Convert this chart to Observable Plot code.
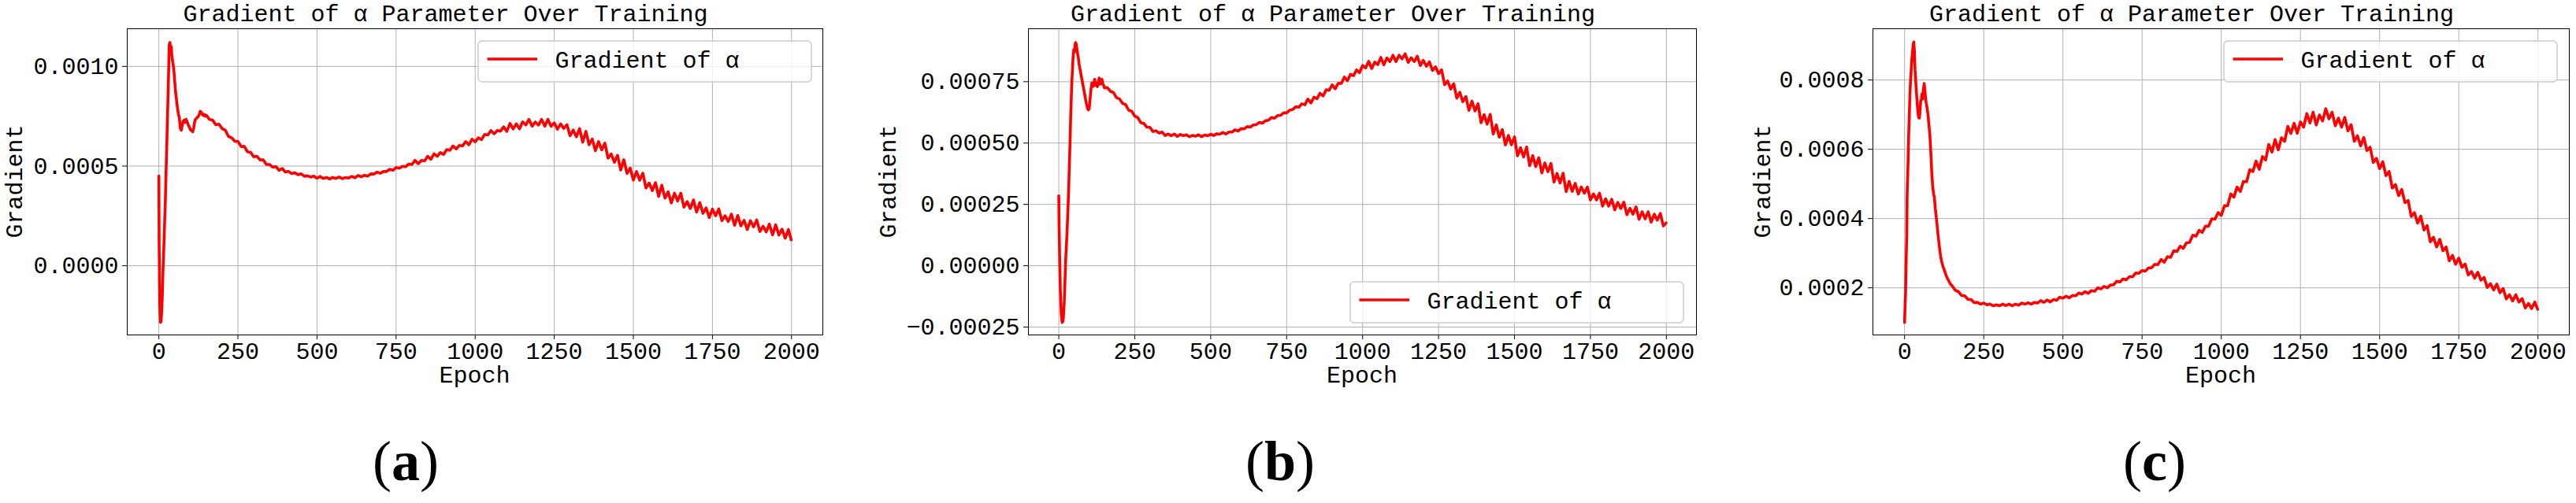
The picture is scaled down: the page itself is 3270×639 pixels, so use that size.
<!DOCTYPE html>
<html>
<head>
<meta charset="utf-8">
<script src="https://cdn.jsdelivr.net/npm/d3@7"></script>
<script src="https://cdn.jsdelivr.net/npm/@observablehq/plot@0.6"></script>
<style>
  html, body { margin: 0; padding: 0; background: #ffffff; }
  #figure { position: relative; width: 3270px; height: 639px; overflow: hidden; background: #ffffff; }
  .panel { position: absolute; top: 0; width: 1090px; height: 639px; }
  .panel svg { display: block; }
</style>
</head>
<body>
<div id="figure"></div>
<script>
const FONT = "'Liberation Mono', 'DejaVu Sans Mono', monospace";
const SERIF = "'Liberation Serif', 'DejaVu Serif', serif";

// ---------- shared axis values ----------
const xTicks = [0, 250, 500, 750, 1000, 1250, 1500, 1750, 2000];
const xTickLabels = ["0", "250", "500", "750", "1000", "1250", "1500", "1750", "2000"];
const xDomain = [-99.95, 2098.95];
const titleText = "Gradient of α Parameter Over Training";
const xLabelText = "Epoch";
const yLabelText = "Gradient";
const legendText = "Gradient of α";

// epochs sampled every 10 from 150 to 1990, plus the last epoch
const tailEpochs = d3.range(150, 2000, 10).concat([1999]);

// ---------- panel (a) : gradient values in units of 1e-6 ----------
const earlyEpochsA = [0,1,3,5,7,9,11,13,15,17,19,21,23,25,27,29,31,33,35,37,39,41,44,47,50,53,56,59,62,65,68,71,74,77,80,83,86,89,92,95,98,101,104,107,110,113,116,119,122,125,128,131,134,137,140,143,146];
const earlyGradA = [450,100,-200,-284,-280,-230,-150,-30,60,150,250,350,480,600,720,850,980,1110,1120,1090,1100,1060,1020,990,930,870,830,790,760,740,690,680,705,725,730,720,735,725,710,700,690,680,680,672,690,720,735,740,745,750,760,775,770,760,755,760,750];
const tailGradA = [
  755,734,731,707,710,688,680,649,642,625,
  624,598,599,572,569,547,549,531,531,508,
  508,494,498,479,488,470,473,462,466,457,
  461,449,451,445,450,439,448,438,443,435,
  443,438,445,437,443,440,448,441,453,446,
  454,450,461,460,470,464,473,473,484,479,
  493,489,499,497,510,508,529,512,529,526,
  549,534,562,549,568,558,583,579,601,586,
  604,601,623,607,635,622,642,633,659,656,
  678,662,679,675,697,674,714,686,712,687,
  722,706,734,700,721,706,734,700,734,699,
  717,685,712,689,708,652,681,647,688,620,
  674,607,636,577,623,581,615,540,561,519,
  554,480,532,463,490,430,473,429,464,390,
  415,377,417,348,404,339,371,315,364,325,
  364,294,322,287,330,269,317,263,290,242,
  284,251,285,226,251,222,259,203,252,200,
  228,182,226,195,230,172,198,170,209,155,
  205,154,184,138,182,130];
const yTicksA = [0, 500, 1000];
const yTickLabelsA = ["0.0000", "0.0005", "0.0010"];

// ---------- panel (b) ----------
const earlyEpochsB = [0,1,3,5,8,11,13,15,18,20,23,27,31,33,35,37,39,41,43,45,47,49,51,53,55,57,59,61,64,67,70,73,76,79,82,85,88,91,94,97,100,103,106,109,112,115,118,121,124,127,130,133,136,139,142,145,148];
const earlyGradB = [285,160,25,-95,-195,-231,-228,-212,-147,-73,34,130,258,330,420,500,600,680,750,800,850,880,870,895,910,905,890,870,850,820,800,780,760,740,720,700,680,660,645,635,640,680,720,745,730,740,760,735,745,730,750,765,740,745,760,740,735];
const tailGradB = [
  725,726,711,706,685,680,662,657,634,630,
  610,604,583,580,565,564,547,550,541,545,
  531,537,530,537,527,535,530,534,526,531,
  528,534,526,533,530,536,531,538,536,543,
  537,545,545,554,549,559,558,567,565,574,
  575,584,581,591,593,604,601,612,613,623,
  623,634,637,648,646,660,656,679,663,687,
  681,703,692,717,715,737,721,744,743,769,
  754,780,775,798,787,816,806,833,804,830,
  820,849,819,847,832,858,832,858,843,864,
  829,848,832,854,816,837,813,831,796,811,
  783,799,738,753,720,742,683,707,669,690,
  633,671,631,660,583,616,577,617,537,574,
  524,555,492,531,493,525,448,481,443,484,
  408,449,404,440,378,419,383,417,341,376,
  337,377,302,344,303,336,292,321,296,321,
  268,293,268,296,243,273,243,271,228,258,
  233,259,208,234,210,240,189,220,191,220,
  178,210,186,213,162,175];
const yTicksB = [-250, 0, 250, 500, 750];
const yTickLabelsB = ["\u22120.00025", "0.00000", "0.00025", "0.00050", "0.00075"];

// ---------- panel (c) ----------
const earlyEpochsC = [0,1,2,3,4,5,6,7,8,9,11,13,15,17,19,21,23,25,27,29,31,33,35,37,39,41,43,45,47,49,51,53,55,57,59,62,65,68,71,74,77,80,83,86,89,92,94,97,100,103,106,110,114,118,122,126,131,136,140,145];
const earlyGradC = [100,130,160,180,230,280,320,350,460,500,560,640,700,760,800,830,860,880,900,910,885,830,800,770,745,720,700,690,690,715,740,745,760,745,770,790,760,735,720,700,670,640,590,530,490,470,462,430,405,378,350,318,290,272,260,250,236,226,219,211];
const tailGradC = [
  206,193,189,178,177,167,166,157,158,153,
  156,151,153,148,151,148,153,149,153,148,
  153,150,156,153,157,153,158,156,163,158,
  165,159,166,164,173,170,176,171,178,177,
  185,182,189,184,192,190,200,197,204,200,
  208,209,219,217,226,223,232,232,243,242,
  250,248,257,258,268,267,282,274,290,288,
  307,305,320,314,330,331,352,349,366,360,
  378,378,399,398,417,409,437,437,471,462,
  491,478,507,506,541,536,566,542,579,569,
  614,592,628,598,633,623,666,646,675,646,
  679,664,703,676,707,670,699,682,717,688,
  707,668,690,664,692,653,671,623,639,610,
  634,596,606,562,574,544,564,524,536,488,
  498,466,484,446,452,406,417,387,407,367,
  380,333,346,318,340,307,318,278,294,268,
  286,259,269,237,247,228,245,222,230,201,
  212,194,211,186,198,168,180,162,180,159,
  169,142,155,140,159,138];
const yTicksC = [200, 400, 600, 800];
const yTickLabelsC = ["0.0002", "0.0004", "0.0006", "0.0008"];

const subLabels = ["a", "b", "c"];

// ---------- layout per panel ----------
const panels = [
  {left: 0,    ml: 161, mr: 46, ee: earlyEpochsA, eg: earlyGradA, tg: tailGradA,
   yDomain: [-347, 1189], yTicks: yTicksA, yTickLabels: yTickLabelsA,
   legend: {x: 607, y: 52}, yLabelX: 28, subX: 515, sub: subLabels[0]},
  {left: 1090, ml: 215, mr: 27, ee: earlyEpochsB, eg: earlyGradB, tg: tailGradB,
   yDomain: [-282, 966], yTicks: yTicksB, yTickLabels: yTickLabelsB,
   legend: {x: 624, y: 358}, yLabelX: 47, subX: 535, sub: subLabels[1]},
  {left: 2180, ml: 197, mr: 9, ee: earlyEpochsC, eg: earlyGradC, tg: tailGradC,
   yDomain: [64, 948], yTicks: yTicksC, yTickLabels: yTickLabelsC,
   legend: {x: 643, y: 52}, yLabelX: 67, subX: 555, sub: subLabels[2]}
];

const W = 1090, H = 639, MT = 36, MB = 214;
const xLabelMap = new Map(xTicks.map((t, i) => [t, xTickLabels[i]]));
const fig = document.getElementById("figure");

for (const p of panels) {
  const data = [];
  p.ee.forEach((e, i) => data.push({epoch: e, grad: p.eg[i]}));
  tailEpochs.forEach((e, i) => data.push({epoch: e, grad: p.tg[i]}));
  const yLabelMap = new Map(p.yTicks.map((t, i) => [t, p.yTickLabels[i]]));

  const svg = Plot.plot({
    width: W, height: H,
    marginLeft: p.ml, marginRight: p.mr, marginTop: MT, marginBottom: MB,
    style: {background: "transparent", fontFamily: FONT, fontSize: "30px", color: "black", overflow: "visible"},
    x: {domain: xDomain},
    y: {domain: p.yDomain},
    marks: [
      Plot.gridX(xTicks, {stroke: "#b0b0b0", strokeOpacity: 1, strokeWidth: 1}),
      Plot.gridY(p.yTicks, {stroke: "#b0b0b0", strokeOpacity: 1, strokeWidth: 1}),
      Plot.line(data, {x: "epoch", y: "grad", stroke: "#ff0000", strokeWidth: 3.6, strokeLinejoin: "round"}),
      Plot.frame({stroke: "black", strokeWidth: 1}),
      Plot.axisX(xTicks, {tickSize: 6, tickPadding: 3, tickFormat: d => xLabelMap.get(d), label: null, fontSize: 30, fill: "black", stroke: "black"}),
      Plot.axisY(p.yTicks, {tickSize: 6, tickPadding: 5, tickFormat: d => yLabelMap.get(d), label: null, fontSize: 30, fill: "black", stroke: "black"})
    ]
  });

  const s = d3.select(svg);
  const frameL = p.ml, frameR = W - p.mr;
  const cx = (frameL + frameR) / 2;
  const cy = (MT + (H - MB)) / 2;

  // title
  s.append("text").text(titleText)
    .attr("x", cx - 37).attr("y", 27)
    .attr("text-anchor", "middle").attr("fill", "black")
    .style("font-family", FONT).style("font-size", "30px");
  // x label
  s.append("text").text(xLabelText)
    .attr("x", cx).attr("y", 486)
    .attr("text-anchor", "middle").attr("fill", "black")
    .style("font-family", FONT).style("font-size", "30px");
  // y label
  s.append("text").text(yLabelText)
    .attr("transform", `translate(${p.yLabelX},${cy}) rotate(-90)`)
    .attr("text-anchor", "middle").attr("fill", "black")
    .style("font-family", FONT).style("font-size", "30px");

  // legend
  const lg = s.append("g").attr("transform", `translate(${p.legend.x},${p.legend.y})`);
  lg.append("rect").attr("x", 0).attr("y", 0).attr("width", 423).attr("height", 52)
    .attr("rx", 5).attr("ry", 5)
    .attr("fill", "white").attr("fill-opacity", 0.8)
    .attr("stroke", "#cccccc").attr("stroke-width", 1.5);
  lg.append("line").attr("x1", 11.5).attr("x2", 75).attr("y1", 23).attr("y2", 23)
    .attr("stroke", "#ff0000").attr("stroke-width", 3.3);
  lg.append("text").text(legendText).attr("x", 97.5).attr("y", 34.3)
    .attr("text-anchor", "start").attr("fill", "black")
    .style("font-family", FONT).style("font-size", "30px");

  // sub-figure label
  const st = s.append("text").attr("x", p.subX).attr("y", 610)
    .attr("text-anchor", "middle").attr("fill", "black")
    .style("font-family", SERIF).style("font-size", "72px");
  st.append("tspan").text("(");
  st.append("tspan").text(p.sub).style("font-weight", "bold");
  st.append("tspan").text(")");

  const div = document.createElement("div");
  div.className = "panel";
  div.style.left = p.left + "px";
  div.appendChild(svg);
  fig.appendChild(div);
}
</script>
</body>
</html>
